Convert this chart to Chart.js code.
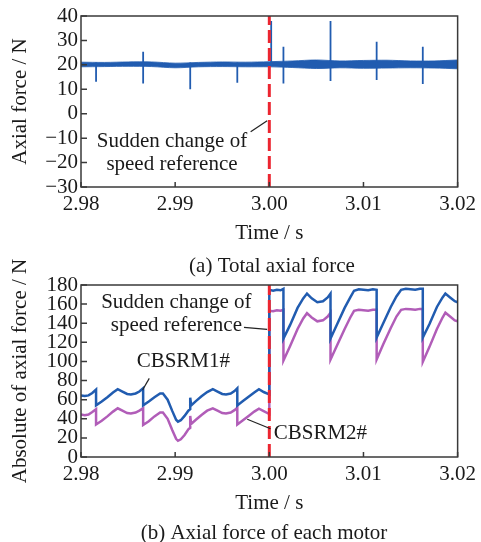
<!DOCTYPE html>
<html>
<head>
<meta charset="utf-8">
<script src="https://cdn.jsdelivr.net/npm/chart.js@4.4.0/dist/chart.umd.min.js"></script>
<style>
  html, body { margin: 0; padding: 0; background: #fff; }
  #wrap { position: relative; width: 481px; height: 542px; overflow: hidden; }
  #totalChart { position: absolute; left: 0; top: 0; }
  #motorChart { position: absolute; left: 0; top: 230px; }
</style>
</head>
<body>
<div id="wrap">
  <canvas id="totalChart" width="481" height="285" style="width:481px;height:285px"></canvas>
  <canvas id="motorChart" width="481" height="312" style="width:481px;height:312px"></canvas>
</div>
<script>
// tick labels
var timeTicks = [2.98, 2.99, 3.00, 3.01, 3.02];
var totalTicks = [-30, -20, -10, 0, 10, 20, 30, 40];
var motorTicks = [0, 20, 40, 60, 80, 100, 120, 140, 160, 180];
var changeTime = 3.00;

// (a) total axial force: ripple band envelope
var bandTime  = [2.98, 2.9825, 2.985, 2.9875, 2.99, 2.9925, 2.995, 2.9975, 3.00, 3.0025, 3.005, 3.0075, 3.01, 3.0125, 3.015, 3.0175, 3.02];
var bandUpper = [21.1, 21.0, 21.2, 21.2, 20.7, 21.0, 21.2, 21.1, 21.3, 21.6, 22.0, 21.6, 21.8, 21.9, 21.6, 21.6, 22.0];
var bandLower = [19.2, 19.3, 19.4, 19.3, 18.8, 19.2, 19.3, 19.2, 19.2, 18.9, 18.5, 18.8, 18.6, 18.7, 18.8, 18.7, 18.4];

// (a) commutation spikes
var spikeTime = [2.9816, 2.9866, 2.9916, 2.9966, 3.0002, 3.0015, 3.0065, 3.0114, 3.0163];
var spikeHigh = [21.0, 25.4, 21.0, 21.0, 38.0, 27.4, 38.0, 29.5, 27.4];
var spikeLow  = [13.1, 12.4, 10.0, 12.7, 19.5, 12.4, 13.4, 13.8, 12.2];

// (b) axial force of each motor
var motorTime = [
  2.9800, 2.9804, 2.9808, 2.9812, 2.9816, 2.9816, 2.9822, 2.9828, 2.9834, 2.9839,
  2.9844, 2.9849, 2.9853, 2.9858, 2.9862, 2.9866, 2.9866, 2.9872, 2.9878, 2.9884,
  2.9887, 2.9892, 2.9897, 2.9901, 2.9903, 2.9906, 2.9910, 2.9914, 2.9916, 2.9916,
  2.9917, 2.9922, 2.9928, 2.9934, 2.9940, 2.9945, 2.9950, 2.9954, 2.9959, 2.9963,
  2.9966, 2.9966, 2.9972, 2.9978, 2.9984, 2.9989, 2.9994, 3.0000, 3.0000, 3.0004,
  3.0008, 3.0012, 3.0015, 3.0015, 3.0022, 3.0030, 3.0036, 3.0040, 3.0045, 3.0051,
  3.0057, 3.0062, 3.0065, 3.0065, 3.0072, 3.0080, 3.0086, 3.0090, 3.0095, 3.0100,
  3.0105, 3.0110, 3.0114, 3.0114, 3.0121, 3.0129, 3.0135, 3.0140, 3.0145, 3.0150,
  3.0155, 3.0160, 3.0163, 3.0163, 3.0170, 3.0178, 3.0184, 3.0187, 3.0192, 3.0197,
  3.0200
];
var motor1 = [
  64.5, 63.8, 64.5, 67.0, 70.5, 54.0, 58.0, 62.5, 67.5, 71.0,
  68.5, 66.0, 65.5, 66.5, 68.5, 72.0, 54.0, 58.0, 62.5, 66.5,
  66.5, 60.0, 48.0, 39.0, 37.0, 38.5, 43.0, 48.5, 50.0, 62.0,
  54.0, 58.5, 63.5, 68.0, 71.0, 68.5, 66.0, 65.5, 66.5, 69.0,
  72.0, 54.0, 58.5, 63.0, 67.5, 71.0, 68.0, 65.5, 175.0, 174.0,
  175.0, 174.5, 176.0, 124.0, 138.0, 156.0, 166.0, 171.0, 166.0, 162.0,
  163.0, 167.0, 171.0, 124.0, 139.0, 156.0, 167.0, 174.0, 175.5, 175.0,
  174.5, 175.5, 175.0, 125.0, 140.0, 157.0, 168.0, 175.0, 176.0, 175.5,
  175.0, 176.0, 176.0, 125.0, 139.0, 157.0, 167.0, 171.0, 167.0, 163.0,
  162.0
];
var motor2 = [
  44.5, 43.8, 44.5, 47.0, 50.0, 34.0, 38.0, 42.5, 47.5, 51.0,
  48.5, 46.0, 45.5, 46.5, 48.5, 51.0, 33.5, 37.5, 42.5, 46.5,
  46.5, 40.0, 28.0, 19.0, 17.0, 18.5, 23.0, 29.0, 30.5, 43.0,
  34.5, 39.0, 44.0, 48.5, 51.0, 48.5, 46.0, 45.5, 46.5, 49.0,
  51.5, 34.0, 38.5, 43.0, 47.5, 50.5, 48.0, 45.0, 153.0, 152.5,
  153.5, 153.0, 154.0, 101.0, 116.0, 134.0, 145.0, 150.5, 146.0, 142.0,
  143.0, 147.0, 151.0, 102.0, 117.0, 134.0, 146.0, 153.0, 154.0, 153.5,
  153.0, 154.0, 154.0, 102.0, 118.0, 135.0, 147.0, 154.0, 155.0, 154.5,
  154.0, 155.0, 155.0, 99.5, 115.0, 134.0, 146.0, 151.0, 147.0, 143.0,
  142.0
];

var serif = '"Liberation Serif", "Times New Roman", serif';
var fontSize = 21;
var inkColor = '#1a1a1a';

function pairs(xs, ys) {
  return xs.map(function (x, i) { return { x: x, y: ys[i] }; });
}

function spikeData() {
  var pts = [];
  spikeTime.forEach(function (t, i) {
    pts.push({ x: t, y: spikeLow[i] });
    pts.push({ x: t, y: spikeHigh[i] });
    pts.push({ x: t, y: null });
  });
  return pts;
}

// frame, inward ticks, notes, leaders and caption
var paperPlugin = {
  id: 'paper',
  afterDatasetsDraw: function (chart, args, opts) {
    var ctx = chart.ctx, a = chart.chartArea;
    var xs = chart.scales.x, ys = chart.scales.y;
    ctx.save();
    ctx.strokeStyle = '#3a3a3a';
    ctx.lineWidth = 1.5;
    ctx.strokeRect(a.left, a.top, a.right - a.left, a.bottom - a.top);
    ctx.beginPath();
    ys.ticks.forEach(function (t) {
      var y = ys.getPixelForValue(t.value);
      ctx.moveTo(a.left, y);
      ctx.lineTo(a.left + 6, y);
    });
    xs.ticks.forEach(function (t) {
      var x = xs.getPixelForValue(t.value);
      ctx.moveTo(x, a.bottom);
      ctx.lineTo(x, a.bottom - 5);
    });
    ctx.stroke();

    ctx.strokeStyle = '#222';
    ctx.lineWidth = 1.2;
    (opts.leaders || []).forEach(function (l) {
      ctx.beginPath();
      ctx.moveTo(xs.getPixelForValue(l[0][0]), ys.getPixelForValue(l[0][1]));
      ctx.lineTo(xs.getPixelForValue(l[1][0]), ys.getPixelForValue(l[1][1]));
      ctx.stroke();
    });

    ctx.font = fontSize + 'px ' + serif;
    ctx.fillStyle = inkColor;
    ctx.textBaseline = 'middle';
    (opts.notes || []).forEach(function (n) {
      ctx.textAlign = n.align || 'center';
      ctx.fillText(n.text, xs.getPixelForValue(n.x), ys.getPixelForValue(n.y));
    });
    ctx.restore();
  },
  afterDraw: function (chart, args, opts) {
    var ctx = chart.ctx;
    ctx.save();
    ctx.font = fontSize + 'px ' + serif;
    ctx.fillStyle = inkColor;
    ctx.textAlign = 'center';
    ctx.textBaseline = 'middle';
    ctx.fillText(opts.caption, opts.captionX, opts.captionY);
    ctx.restore();
  }
};

function makeScales(yMin, yMax, yTicks, yTitle) {
  return {
    x: {
      type: 'linear',
      min: 2.98,
      max: 3.02,
      afterBuildTicks: function (s) { s.ticks = timeTicks.map(function (v) { return { value: v }; }); },
      afterFit: function (s) { s.height = 59; },
      grid: { display: false, drawTicks: false },
      border: { display: false },
      ticks: {
        autoSkip: false, maxRotation: 0, padding: 5, color: inkColor,
        font: { family: serif, size: fontSize },
        callback: function (v) { return v.toFixed(2); }
      },
      title: { display: true, text: 'Time / s', color: inkColor, padding: { top: 0, bottom: 0 }, font: { family: serif, size: fontSize } }
    },
    y: {
      min: yMin,
      max: yMax,
      afterBuildTicks: function (s) { s.ticks = yTicks.map(function (v) { return { value: v }; }); },
      afterFit: function (s) { s.width = 81; },
      grid: { display: false, drawTicks: false },
      border: { display: false },
      ticks: {
        autoSkip: false, padding: 3, color: inkColor,
        font: { family: serif, size: fontSize },
        callback: function (v) { return String(v).replace('-', '\u2212'); }
      },
      title: { display: true, text: yTitle, color: inkColor, padding: { top: 8, bottom: 0 }, font: { family: serif, size: fontSize } }
    }
  };
}

var blue = '#215cb0';
var purple = '#b15db8';
var red = '#ec2530';

var baseOptions = function (padTop, padBottom) {
  return {
    responsive: false,
    animation: false,
    layout: { padding: { top: padTop, right: 21, bottom: padBottom, left: 0 } },
    elements: { point: { radius: 0 } },
    plugins: { legend: { display: false }, tooltip: { enabled: false } }
  };
};

// (a) total axial force
var opt1 = baseOptions(16, 39);
opt1.scales = makeScales(-30, 40, totalTicks, 'Axial force / N');
opt1.plugins.paper = {
  caption: '(a) Total axial force', captionX: 272, captionY: 266,
  notes: [
    { text: 'Sudden change of', x: 2.98966, y: -11.2 },
    { text: 'speed reference', x: 2.98966, y: -20.6 }
  ],
  leaders: [[[2.99802, -7.4], [2.99977, -2.9]]]
};

new Chart(document.getElementById('totalChart'), {
  type: 'line',
  data: {
    datasets: [
      { data: [{ x: changeTime, y: -30 }, { x: changeTime, y: 40 }], borderColor: red, borderWidth: 3, borderDash: [13, 5], fill: false },
      { data: spikeData(), borderColor: blue, borderWidth: 1.8, spanGaps: false, fill: false },
      { data: pairs(bandTime, bandUpper), borderColor: blue, borderWidth: 0.8, backgroundColor: blue, fill: '+1', tension: 0.3 },
      { data: pairs(bandTime, bandLower), borderColor: blue, borderWidth: 0.8, fill: false, tension: 0.3 }
    ]
  },
  options: opt1,
  plugins: [paperPlugin]
});

// (b) axial force of each motor
var opt2 = baseOptions(55, 26);
opt2.scales = makeScales(0, 180, motorTicks, 'Absolute of axial force / N');
opt2.plugins.paper = {
  caption: '(b) Axial force of each motor', captionX: 264, captionY: 303,
  notes: [
    { text: 'Sudden change of', x: 2.99013, y: 162.2 },
    { text: 'speed reference', x: 2.99013, y: 138.1 },
    { text: 'CBSRM1#', x: 2.99087, y: 99.7 },
    { text: 'CBSRM2#', x: 3.00047, y: 25, align: 'left' }
  ],
  leaders: [
    [[2.99731, 135.7], [2.99977, 133.6]],
    [[2.98725, 82.3], [2.98654, 70.1]],
    [[2.99766, 39.5], [3.00013, 29.5]]
  ]
};

new Chart(document.getElementById('motorChart'), {
  type: 'line',
  data: {
    datasets: [
      { data: [{ x: changeTime, y: 0 }, { x: changeTime, y: 180 }], borderColor: red, borderWidth: 3, borderDash: [13, 5], fill: false },
      { label: 'CBSRM1#', data: pairs(motorTime, motor1), borderColor: blue, borderWidth: 2.5, fill: false },
      { label: 'CBSRM2#', data: pairs(motorTime, motor2), borderColor: purple, borderWidth: 2.5, fill: false }
    ]
  },
  options: opt2,
  plugins: [paperPlugin]
});
</script>
</body>
</html>
